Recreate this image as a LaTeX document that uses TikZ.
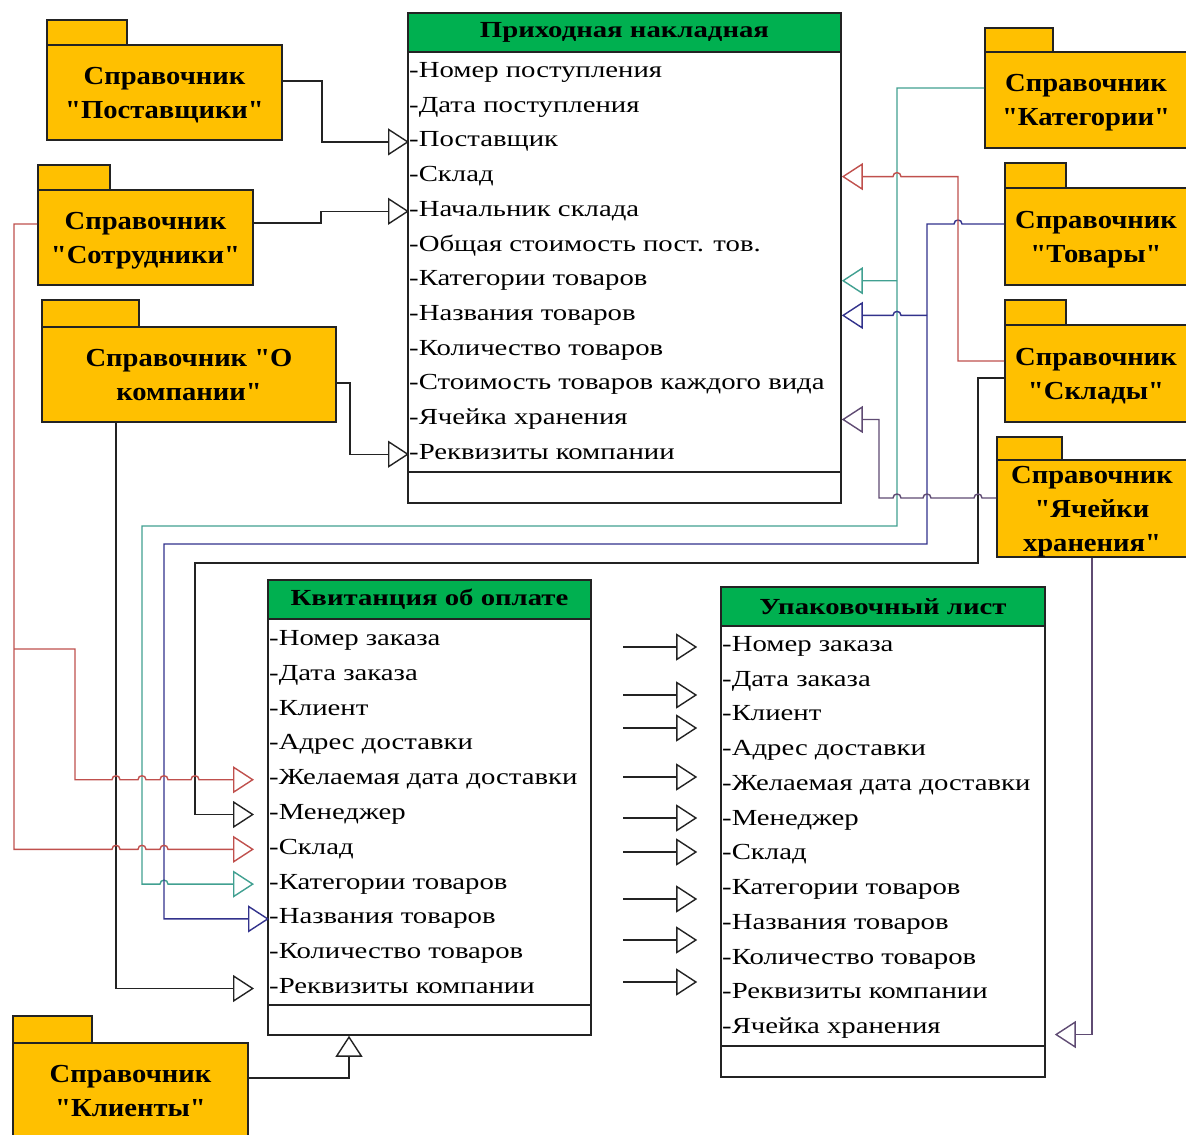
\documentclass[tikz,border=0pt]{standalone}
\usepackage{fontspec}
\newfontfamily\dgfont{Liberation Serif}[FakeStretch=1.25]
\newfontfamily\pkgfont{Liberation Serif}[FakeStretch=1.1]
\usepackage{tikz}
\usetikzlibrary{calc}
\usetikzlibrary{arrows.meta}
\definecolor{pkgcol}{RGB}{255,192,0}
\definecolor{headcol}{RGB}{0,176,80}
\definecolor{redline}{RGB}{192,80,77}
\definecolor{tealline}{RGB}{65,160,145}
\definecolor{blueline}{RGB}{50,50,140}
\definecolor{purpline}{RGB}{95,75,115}
\definecolor{darkline}{RGB}{35,35,35}
\tikzstyle{pkg}=[draw=darkline, line width=1.6pt, fill=pkgcol, inner sep=0pt, align=center, text depth=0pt, font=\pkgfont\bfseries\fontsize{26}{34}\selectfont]
\tikzstyle{pkgtab}=[draw=darkline, line width=1.6pt, fill=pkgcol]
\tikzstyle{cls}=[draw=darkline, line width=1.6pt, fill=white, inner sep=0pt]
\tikzstyle{clshead}=[draw=darkline, line width=1.6pt, fill=headcol, inner sep=0pt, font=\dgfont\bfseries\fontsize{23}{26}\selectfont]
\tikzstyle{attr}=[anchor=west, inner sep=0pt, text height=15pt, text depth=5pt, font=\dgfont\fontsize{23}{26}\selectfont]
\tikzstyle{gen}=[draw=darkline, line width=1.4pt, -{Triangle[open, length=21pt, width=27pt, fill=white]}]
\newcommand{\hopr}[2]{-- ({#1-4}, #2) .. controls ({#1-4}, {#2-5.3}) and ({#1+4}, {#2-5.3}) .. ({#1+4}, #2)}
\newcommand{\hopl}[2]{-- ({#1+4}, #2) .. controls ({#1+4}, {#2-5.3}) and ({#1-4}, {#2-5.3}) .. ({#1-4}, #2)}

\begin{document}
\begin{tikzpicture}[x=1pt, y=-1pt]
    \fill[white] (0, 0) rectangle (1186, 1135);
    \useasboundingbox (0, 0) rectangle (1186, 1135);

    \draw[pkgtab] (47, 20) rectangle (127, 45);
    \node[pkg, minimum width=235pt, minimum height=95pt] (sp) at (164.5, 92.5) {Справочник\\"Поставщики"};
    \draw[pkgtab] (38, 165) rectangle (110, 190);
    \node[pkg, minimum width=215pt, minimum height=95pt] (ss) at (145.5, 237.5) {Справочник\\"Сотрудники"};
    \draw[pkgtab] (42, 300) rectangle (139, 327);
    \node[pkg, minimum width=294pt, minimum height=95pt] (sk) at (189, 374.5) {Справочник "О\\компании"};
    \draw[pkgtab] (985, 28) rectangle (1053, 52);
    \node[pkg, minimum width=202pt, minimum height=96pt] (kat) at (1086, 100) {Справочник\\"Категории"};
    \draw[pkgtab] (1005, 163) rectangle (1066, 188);
    \node[pkg, minimum width=182pt, minimum height=97pt] (tov) at (1096, 236.5) {Справочник\\"Товары"};
    \draw[pkgtab] (1005, 300) rectangle (1066, 325);
    \node[pkg, minimum width=182pt, minimum height=97pt] (skl) at (1096, 373.5) {Справочник\\"Склады"};
    \draw[pkgtab] (997, 437) rectangle (1062, 460);
    \node[pkg, minimum width=190pt, minimum height=97pt] (yach) at (1092, 508.5) {Справочник\\"Ячейки\\хранения"};
    \draw[pkgtab] (13, 1016) rectangle (92, 1043);
    \node[pkg, minimum width=235pt, minimum height=96pt] (kl) at (130.5, 1091) {Справочник\\"Клиенты"};

    \node[cls, minimum width=433pt, minimum height=490pt] (pn) at (624.5, 258) {};
    \node[clshead, minimum width=433pt, minimum height=39pt] (pnhead) at (624.5, 32.5) {Приходная накладная};
    \draw[darkline, line width=1.6pt] (pn.west |- 0, 472) -- (pn.east |- 0, 472);
    \foreach \t [count=\i] in {-Номер поступления, -Дата поступления, -Поставщик, -Склад, -Начальник склада, -Общая стоимость пост. тов., -Категории товаров, -Названия товаров, -Количество товаров, -Стоимость товаров каждого вида, -Ячейка хранения, -Реквизиты компании}
        \node[attr] (pn-\i) at (409, {72.5 + 34.7*(\i - 1)}) {\t};

    \node[cls, minimum width=323pt, minimum height=455pt] (kv) at (429.5, 807.5) {};
    \node[clshead, minimum width=323pt, minimum height=39pt] (kvhead) at (429.5, 599.5) {Квитанция об оплате};
    \draw[darkline, line width=1.6pt] (kv.west |- 0, 1005) -- (kv.east |- 0, 1005);
    \foreach \t [count=\i] in {-Номер заказа, -Дата заказа, -Клиент, -Адрес доставки, -Желаемая дата доставки, -Менеджер, -Склад, -Категории товаров, -Названия товаров, -Количество товаров, -Реквизиты компании}
        \node[attr] (kv-\i) at (269, {640.5 + 34.8*(\i - 1)}) {\t};

    \node[cls, minimum width=324pt, minimum height=490pt] (ul) at (883, 832) {};
    \node[clshead, minimum width=324pt, minimum height=39pt] (ulhead) at (883, 606.5) {Упаковочный лист};
    \draw[darkline, line width=1.6pt] (ul.west |- 0, 1046) -- (ul.east |- 0, 1046);
    \foreach \t [count=\i] in {-Номер заказа, -Дата заказа, -Клиент, -Адрес доставки, -Желаемая дата доставки, -Менеджер, -Склад, -Категории товаров, -Названия товаров, -Количество товаров, -Реквизиты компании, -Ячейка хранения}
        \node[attr] (ul-\i) at (722, {646.5 + 34.73*(\i - 1)}) {\t};

    \coordinate (katbus) at (897, 280.7);
    \coordinate (tovbus) at (927, 315.4);
    \coordinate (ssbus) at (14, 649);

    \draw[gen] (sp.east |- 0, 81) -- (322, 81) |- (pn-3.west);
    \draw[gen] (ss.east |- 0, 223) -- (321, 223) |- (pn-5.west);
    \draw[gen] (sk.east |- 0, 383) -- (350, 383) |- (pn-12.west);
    \draw[gen] (116, 0 |- sk.south) |- ($(kv-11.west) + (-15, 0)$);
    \draw[gen] (kl.east |- 0, 1078) -| (349, 0 |- kv.south);

    \draw[gen, draw=tealline] (kat.west |- 0, 88) -- (897, 88) -- (897, 526) -- (142, 526) -- (142, 884.1) \hopr{164}{884.1} -- ($(kv-8.west) + (-15, 0)$);
    \draw[gen, draw=tealline] (katbus) -- (pn.east |- pn-7.west);
    \draw[gen, draw=blueline] (tov.west |- 0, 224) \hopl{958}{224} -- (927, 224) -- (927, 544) -- (164, 544) |- (kv-9.west);
    \draw[gen, draw=blueline] (tovbus) \hopl{897}{315.4} -- (pn.east |- pn-8.west);
    \draw[gen, draw=redline] (skl.west |- 0, 361) -- (958, 361) -- (958, 176.6) \hopl{897}{176.6} -- (pn.east |- pn-4.west);
    \draw[gen] (skl.west |- 0, 378) -- (978, 378) -- (978, 563) -- (195, 563) |- ($(kv-6.west) + (-15, 0)$);
    \draw[gen, draw=purpline] (yach.west |- 0, 498) \hopl{978}{498} \hopl{927}{498} \hopl{897}{498} -- (879, 498) |- (pn.east |- pn-11.west);
    \draw[gen, draw=purpline] (yach.south) |- ($(ul.east |- ul-12.west) + (9, 6)$);
    \draw[gen, draw=redline] (ss.west |- 0, 224) -- (14, 224) -- (14, 849.3) \hopr{116}{849.3} \hopr{142}{849.3} \hopr{164}{849.3} -- ($(kv-7.west) + (-15, 0)$);
    \draw[gen, draw=redline] (ssbus) -- (75, 649) -- (75, 779.7) \hopr{116}{779.7} \hopr{142}{779.7} \hopr{164}{779.7} \hopr{195}{779.7} -- ($(kv-5.west) + (-15, 0)$);

    \foreach \y in {647, 695, 728, 777, 818, 852, 899, 940, 982}
        \draw[gen] ($(ul.west |- 0, \y) + (-97, 0)$) -- ($(ul.west |- 0, \y) + (-23, 0)$);
\end{tikzpicture}
\end{document}
